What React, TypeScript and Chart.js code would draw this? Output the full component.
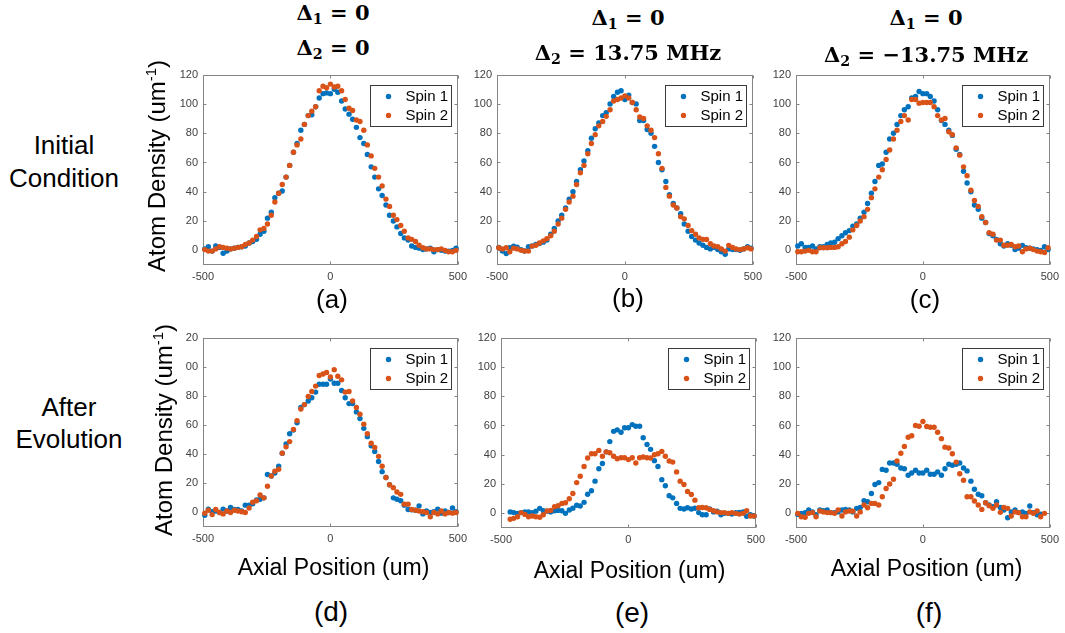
import React, { useEffect, useRef } from "react";
import { Chart, registerables } from "chart.js";

Chart.register(...registerables);

// ---------- data ----------
const seriesLabels = ["Spin 1", "Spin 2"];
const xTicks = [-500, 0, 500];
const yTicks = [0, 20, 40, 60, 80, 100, 120];

const positions = [
  -493, -479, -464, -450, -435, -421, -406, -392, -377, -363,
  -348, -334, -319, -305, -290, -276, -261, -247, -232, -218,
  -203, -189, -174, -160, -145, -131, -116, -102, -87, -73,
  -58, -44, -29, -15, 0, 15, 29, 44, 58, 73,
  87, 102, 116, 131, 145, 160, 174, 189, 203, 218,
  232, 247, 261, 276, 290, 305, 319, 334, 348, 363,
  377, 392, 406, 421, 435, 450, 464, 479, 493,
];

const aSpin1 = [
  1, 2.5, -0.5, 3, 2, -2, -0.5, 1, 1.5, 2,
  2.5, 3, 5, 6, 7.5, 11, 13, 22, 26, 36,
  39, 40.5, 50, 58, 67, 73, 82, 86, 92, 92.6,
  98, 104, 107, 107.5, 107, 110, 108, 102, 96.5, 93,
  89.5, 84, 77, 73, 65.5, 57, 50, 42, 37.5, 31,
  24, 20, 16, 11.5, 8.5, 7, 3, 2, 1.5, 0.5,
  1, 1.5, -1, 0.5, 0, -0.5, -0.5, 0, 1.5,
];
const aSpin2 = [
  0.5, -0.5, -0.5, 1, 2.5, 2, 1.5, 1, 1.5, 2,
  2.5, 4, 5, 7, 9.5, 14, 15, 18, 24, 33,
  39, 45, 50, 58, 67, 72, 76, 86, 92, 95,
  98, 109, 112, 111, 113.5, 111.5, 112, 109, 103, 97,
  95.5, 89, 88, 82, 72, 64.5, 56, 50, 44, 35,
  30, 24, 21, 17, 13, 8.5, 7.5, 6, 3.5, 1.8,
  1, 1, 0.5, 0.5, 1, 0, -1, -1, 0,
];
const bSpin1 = [
  2, -0.5, -2.2, 1.8, 2.9, 2.2, 0.5, -0.4, 2.5, 3,
  4, 4.7, 5.6, 7, 11, 15, 20, 24, 29, 35,
  40, 47, 55, 61, 68, 76.5, 83, 87, 92, 94,
  100, 105, 108, 109, 103, 106, 101, 100, 88.6, 88.6,
  82.5, 80, 71, 60, 55, 47, 38, 32, 29, 25,
  18, 13, 9.5, 7, 5, 3.5, 2, 1, 2, 0.5,
  -1, -2.7, 1, 0.5, 0.5, 0, 1, 2.5, 1.5,
];
const bSpin2 = [
  1.8, 1, 1.8, -1, 1.5, 1, 0, -0.4, -0.5, 2.9,
  3.4, 5, 6.5, 8, 10, 13, 18, 22, 28, 33,
  37, 45, 53, 58, 66, 73, 79, 85, 88, 91.5,
  96, 102, 103, 104, 105.5, 104, 101, 96, 91, 90,
  85, 82, 77, 66, 56, 43, 37, 31, 29, 23,
  21.5, 17, 13.5, 11, 8.5, 7.5, 7.4, 4.5, 3, 2.5,
  1, -0.5, 3.4, 2, 1, 0.5, 1, 1.8, 1,
];
const cSpin1 = [
  3, 4.5, 2, 2, 3, 1, 2.5, 2.5, 4, 5,
  5.5, 8, 10, 12, 13.5, 16.5, 18, 22, 26, 32,
  39, 47, 58, 59, 67, 76, 80, 86, 92, 96,
  98, 104, 105, 108.5, 107, 107, 105, 102, 96, 88.6,
  86, 82, 78.5, 69, 65.5, 54, 46, 40, 31, 28,
  22, 19, 11.5, 10, 7.5, 4.5, 3, 4.5, 3.5, 0.5,
  1.5, 3.4, 1.8, 1.5, 1, 0.5, 0, 2.5, 0.5,
];
const cSpin2 = [
  -1, -1, -0.5, 0, -1, -1, 1.8, 1.8, 1.8, 2,
  2, 2.5, 4.5, 6, 9, 14, 17, 20, 23, 28,
  36, 42, 50, 55, 62, 68.5, 76, 82, 88, 92,
  89, 103, 103, 100.5, 101, 101, 101, 98, 92, 89,
  90, 81, 79, 70, 65, 57, 51, 41, 34, 30,
  23, 19, 12, 11, 7, 7, 3.5, 3.5, 4, 2.5,
  3, -1, 1, 1.5, 0.5, -0.5, -1, -1.5, 1.8,
];
const dSpin1 = [
  -2, 2.3, 0.5, 1, 0, 2.3, 1, 3.4, 2, 2,
  1, 5, 5, 6, 8.5, 9, 10, 26, 25, 27,
  31.7, 40.7, 47, 54, 56.5, 61.5, 72, 74, 76.5, 78.7,
  82.6, 88, 88, 88, 91.5, 88.7, 88.7, 83.7, 78.7, 74.7,
  74.7, 69, 64.5, 57.7, 52, 45.7, 41.9, 35, 28, 24,
  19, 10, 9, 8, 5, 2, 1.8, 1.5, 4.5, -1,
  1, 0, 0.5, 2.3, -0.5, 1, 0, 3, 0.5,
];
const dSpin2 = [
  -0.5, 1.5, -1.5, 2, 0, -1, 1, 0, 1.5, 1,
  0.5, 0, 3, 7, 8, 12, 10, 18, 25, 28.3,
  29.6, 40.7, 45, 48.6, 57, 63, 71, 74, 79.6, 83,
  86.7, 94, 95, 96, 93, 98, 93.5, 91, 82.6, 83,
  76.5, 72, 67.4, 60.6, 54, 47.5, 44.6, 38.5, 31.7, 24,
  19, 17, 14, 12.4, 5.7, 5.7, 2, 1.5, 1, 0.5,
  0, -3, 0, -1, 1, -1, 0, -0.5, 0,
];
const eSpin1 = [
  null, null, 1, 0.5, 0, 0.5, 1, 1, 0.5, 1.5,
  3.4, 1.8, 1.5, 1, 1.8, 2, 1.8, 0, 2.3, 3.5,
  5.5, 5, 7.5, 13, 15.4, 22, 30.5, 34, 42, 49,
  56, 57, 55.4, 58.4, 58.4, 60.6, 59.5, 59.5, 51.6, 47,
  43.7, 36, 32, 23, 18.8, 12, 10.6, 6.8, 3.4, 3,
  3.8, 3, 3.5, 0.5, -1, -1, 3, 1, 1.5, -1,
  0, 0, -0.5, 0.5, 0.7, 1, -2, -1, -1.8,
];
const eSpin2 = [
  null, null, -4, -3.4, -2.3, 0.5, -0.7, -2.3, -1.8, -2.3,
  -2.7, -1, 1.6, 2, 4.5, 5.2, 6.8, 7.2, 10, 13.6,
  21, 25.3, 32, 37.8, 40.7, 40.7, 43, 39, 42, 41.4,
  39, 37.3, 38, 38, 36.7, 38, 34.4, 38, 38.5, 38,
  37.8, 40, 40.7, 42.3, 39, 35.7, 35, 28.3, 22, 19.7,
  15, 12.9, 9, 3.8, 4, 3.8, 2.7, 1.8, 1, 0.5,
  0.5, 0, 0.5, 0, -0.5, 0, 1.8, -1.8, -1.8,
];
const fSpin1 = [
  -0.7, 0, 0.5, 2.3, 1, -1, 2.3, 1.8, 2.3, 0.5,
  0.5, 1, 2.3, 2.7, 2.3, 1, 3.4, 4, 8.6, 7.9,
  13.6, 19.7, 21, 30, 29.4, 34.4, 34.4, 33.5, 31, 30.5,
  26, 27.6, 29.4, 27.6, 27.6, 29.4, 26.7, 26.7, 28.3, 26,
  30.5, 33.5, 32.8, 33.5, 34.4, 31, 29, 22, 16.5, 13,
  12, 7.2, 5.7, 4.5, 8, 4, 2.3, -3, 1, 2.3,
  0.5, 1, 0, 5, 0.5, -1, -0.5, null, null,
];
const fSpin2 = [
  0, -2.3, -2.7, 0, 0.5, -2.3, 1.6, 1, 0.5, 0.5,
  0, 2.3, -1.8, 1, 1.6, 1.5, -1.8, 1, 5.7, 3.8,
  6.8, 6.8, 5.7, 11.3, 17, 20, 23.3, 35.7, 41, 45.7,
  52, 53, 60, 59.5, 62.7, 59.3, 58.8, 58.8, 55.4, 51,
  45.2, 44.6, 40.7, 35, 27, 22.6, 11.3, 11.3, 8.4, 5.7,
  2.7, 7.2, 5.2, 3.4, 5.7, 0.7, 4, 3.4, -1.8, 1,
  0.5, -2.3, -2.3, 1, 0, 1.6, -2.3, 0, null,
];

const detuning1 = ["0", "0", "0"];
const detuning2 = ["0", "13.75 MHz", "\u221213.75 MHz"];
const panelLetters = ["(a)", "(b)", "(c)", "(d)", "(e)", "(f)"];
const rowLabels = [["Initial", "Condition"], ["After", "Evolution"]];
const xAxisTitle = "Axial Position (um)";

// ---------- styling ----------
const BLUE = "#0072BD";
const ORANGE = "#D95319";
const SANS = '"Liberation Sans", Arial, Helvetica, sans-serif';
const SERIF = '"DejaVu Serif", "Liberation Serif", serif';
const PAD_L = 40, PAD_T = 10, PAD_R = 10, PAD_B = 24;

const panels = [
  { l: 203, r: 462, t: 73, b: 265, s1: aSpin1, s2: aSpin2 },
  { l: 497, r: 757, t: 73, b: 265, s1: bSpin1, s2: bSpin2 },
  { l: 796, r: 1054, t: 73, b: 265, s1: cSpin1, s2: cSpin2 },
  { l: 203, r: 462, t: 336, b: 527, s1: dSpin1, s2: dSpin2 },
  { l: 501, r: 760, t: 336, b: 528, s1: eSpin1, s2: eSpin2 },
  { l: 796, r: 1054, t: 336, b: 528, s1: fSpin1, s2: fSpin2 },
];

function toPoints(vals: (number | null)[]) {
  return positions
    .map((x, i) => ({ x, y: vals[i] }))
    .filter((p) => p.y !== null && p.y !== undefined);
}

const framePlugin = {
  id: "matlabFrame",
  beforeDatasetsDraw(chart: any) {
    const { ctx, chartArea: a, scales } = chart;
    ctx.save();
    ctx.strokeStyle = "#858585";
    ctx.lineWidth = 1;
    const L = Math.round(a.left) + 0.5, T = Math.round(a.top) + 0.5;
    const R = Math.round(a.right) - 0.5, B = Math.round(a.bottom) - 0.5;
    ctx.strokeRect(L, T, R - L, B - T);
    const t = 3;
    ctx.beginPath();
    for (const v of xTicks) {
      const px = Math.round(scales.x.getPixelForValue(v)) + 0.5;
      ctx.moveTo(px, B); ctx.lineTo(px, B - t);
      ctx.moveTo(px, T); ctx.lineTo(px, T + t);
    }
    for (const v of yTicks) {
      const py = Math.round(scales.y.getPixelForValue(v)) + 0.5;
      ctx.moveTo(L, py); ctx.lineTo(L + t, py);
      ctx.moveTo(R, py); ctx.lineTo(R - t, py);
    }
    ctx.stroke();
    ctx.restore();
  },
};

const legendPlugin = {
  id: "insideLegend",
  afterDatasetsDraw(chart: any) {
    const { ctx, chartArea: a } = chart;
    const w = 81, h = 41;
    const x0 = Math.round(a.right - 7 - w) + 0.5;
    const y0 = Math.round(a.top + 10) + 0.5;
    ctx.save();
    ctx.fillStyle = "#ffffff";
    ctx.fillRect(x0, y0, w, h);
    ctx.strokeStyle = "#3a3a3a";
    ctx.lineWidth = 1;
    ctx.strokeRect(x0, y0, w, h);
    const rows = [11, 30];
    chart.data.datasets.forEach((ds: any, i: number) => {
      const cy = y0 + rows[i];
      ctx.fillStyle = ds.backgroundColor;
      ctx.beginPath();
      ctx.arc(x0 + 18, cy, 2.7, 0, Math.PI * 2);
      ctx.fill();
      ctx.fillStyle = "#000000";
      ctx.font = `15px ${SANS}`;
      ctx.textBaseline = "middle";
      ctx.textAlign = "left";
      ctx.fillText(ds.label, x0 + 35, cy + 0.5);
    });
    ctx.restore();
  },
};

function Panel({ spec }: { spec: any }) {
  const ref = useRef<HTMLCanvasElement>(null);
  const w = spec.r - spec.l + PAD_L + PAD_R;
  const h = spec.b - spec.t + PAD_T + PAD_B;
  useEffect(() => {
    const tickFont = { family: SANS, size: 11 };
    const chart = new Chart(ref.current as HTMLCanvasElement, {
      type: "scatter",
      data: {
        datasets: [
          {
            label: seriesLabels[0],
            data: toPoints(spec.s1),
            backgroundColor: BLUE,
            borderColor: BLUE,
            pointRadius: 2.7,
            pointHoverRadius: 2.7,
            pointBorderWidth: 0,
            order: 1,
            clip: false,
          },
          {
            label: seriesLabels[1],
            data: toPoints(spec.s2),
            backgroundColor: ORANGE,
            borderColor: ORANGE,
            pointRadius: 2.7,
            pointHoverRadius: 2.7,
            pointBorderWidth: 0,
            order: 0,
            clip: false,
          },
        ],
      },
      options: {
        responsive: false,
        animation: false,
        devicePixelRatio: 1,
        events: [],
        layout: { padding: { top: PAD_T, right: PAD_R, left: 0, bottom: 0 } },
        plugins: { legend: { display: false }, tooltip: { enabled: false }, title: { display: false } },
        scales: {
          x: {
            type: "linear",
            min: -500,
            max: 500,
            afterBuildTicks: (s: any) => { s.ticks = xTicks.map((v) => ({ value: v })); },
            afterFit: (s: any) => { s.height = PAD_B; },
            grid: { display: false, drawTicks: false },
            border: { display: false },
            ticks: { color: "#404040", font: tickFont, padding: 5, maxRotation: 0, autoSkip: false, callback: (v: any) => String(v) },
          },
          y: {
            type: "linear",
            min: -10,
            max: 120,
            afterBuildTicks: (s: any) => { s.ticks = yTicks.map((v) => ({ value: v })); },
            afterFit: (s: any) => { s.width = PAD_L; },
            grid: { display: false, drawTicks: false },
            border: { display: false },
            ticks: { color: "#404040", font: tickFont, padding: 5, autoSkip: false, callback: (v: any) => String(v) },
          },
        },
      } as any,
      plugins: [framePlugin, legendPlugin],
    });
    return () => chart.destroy();
  }, []);
  return (
    <canvas
      ref={ref}
      width={w}
      height={h}
      style={{ position: "absolute", left: spec.l - PAD_L, top: spec.t - PAD_T, width: w, height: h }}
    />
  );
}

const subStyle: React.CSSProperties = { fontSize: "0.68em", verticalAlign: "-0.3em", lineHeight: 0 };
const supStyle: React.CSSProperties = { fontSize: "0.62em", verticalAlign: "0.62em", lineHeight: 0 };

function TitleLine({ cx, base, idx, value }: { cx: number; base: number; idx: number; value: string }) {
  const fs = 21;
  return (
    <div
      style={{
        position: "absolute",
        left: cx - 150,
        top: base - 0.846 * fs,
        width: 300,
        textAlign: "center",
        fontFamily: SERIF,
        fontWeight: "bold",
        fontSize: fs,
        lineHeight: `${fs}px`,
        whiteSpace: "nowrap",
      }}
    >
      {"\u0394"}
      <sub style={subStyle}>{idx}</sub> = {value}
    </div>
  );
}

function CenteredText({ cx, top, fs, text }: { cx: number; top: number; fs: number; text: string }) {
  return (
    <div
      style={{
        position: "absolute",
        left: cx - 150,
        top,
        width: 300,
        textAlign: "center",
        fontSize: fs,
        lineHeight: `${fs}px`,
        whiteSpace: "nowrap",
      }}
    >
      {text}
    </div>
  );
}

function YLabel({ cx, cy, boxH, lineH, bg }: { cx: number; cy: number; boxH: number; lineH: number; bg: boolean }) {
  const W = 250;
  return (
    <div
      style={{
        position: "absolute",
        left: cx - W / 2,
        top: cy - boxH / 2,
        width: W,
        height: boxH,
        transform: "rotate(-90deg)",
        textAlign: "center",
        fontSize: 24,
        lineHeight: `${lineH}px`,
        whiteSpace: "nowrap",
        background: bg ? "#ffffff" : "transparent",
      }}
    >
      Atom Density (um<sup style={supStyle}>-1</sup>)
    </div>
  );
}

export default function App() {
  const titleCx = [333, 628, 926];
  const titleBase1 = [20, 25, 25];
  const titleBase2 = [55, 60, 62];
  const letterPos = [
    { cx: 332, cy: 301, fs: 26 },
    { cx: 628, cy: 300, fs: 26 },
    { cx: 925, cy: 301, fs: 26 },
    { cx: 331, cy: 614, fs: 28 },
    { cx: 632, cy: 615, fs: 28 },
    { cx: 929, cy: 615, fs: 28 },
  ];
  const xTitlePos = [
    { cx: 333.5, base: 575 },
    { cx: 629.5, base: 578 },
    { cx: 926.5, base: 576 },
  ];
  return (
    <div
      style={{
        position: "absolute",
        left: 0,
        top: 0,
        width: 1065,
        height: 633,
        overflow: "hidden",
        background: "#ffffff",
        fontFamily: SANS,
        color: "#000000",
      }}
    >
      {panels.map((p, i) => (
        <Panel key={i} spec={p} />
      ))}

      {titleCx.map((cx, i) => (
        <React.Fragment key={"t" + i}>
          <TitleLine cx={cx} base={titleBase1[i]} idx={1} value={detuning1[i]} />
          <TitleLine cx={cx} base={titleBase2[i]} idx={2} value={detuning2[i]} />
        </React.Fragment>
      ))}

      {/* row labels */}
      <div style={{ position: "absolute", left: 64 - 80, top: 128.5, width: 160, textAlign: "center", fontSize: 26, lineHeight: "33px" }}>
        {rowLabels[0][0]}
        <br />
        {rowLabels[0][1]}
      </div>
      <div style={{ position: "absolute", left: 69 - 80, top: 391, width: 160, textAlign: "center", fontSize: 26, lineHeight: "32px" }}>
        {rowLabels[1][0]}
        <br />
        {rowLabels[1][1]}
      </div>

      {/* y axis titles */}
      <YLabel cx={157} cy={166} boxH={30} lineH={30} bg={false} />
      <YLabel cx={168} cy={430} boxH={36} lineH={28} bg={true} />

      {/* x axis titles */}
      {xTitlePos.map((p, i) => (
        <CenteredText key={"x" + i} cx={p.cx} top={p.base - 0.8465 * 23} fs={23} text={xAxisTitle} />
      ))}

      {/* panel letters */}
      {letterPos.map((p, i) => (
        <CenteredText key={"l" + i} cx={p.cx} top={p.cy - 0.586 * p.fs} fs={p.fs} text={panelLetters[i]} />
      ))}
    </div>
  );
}
